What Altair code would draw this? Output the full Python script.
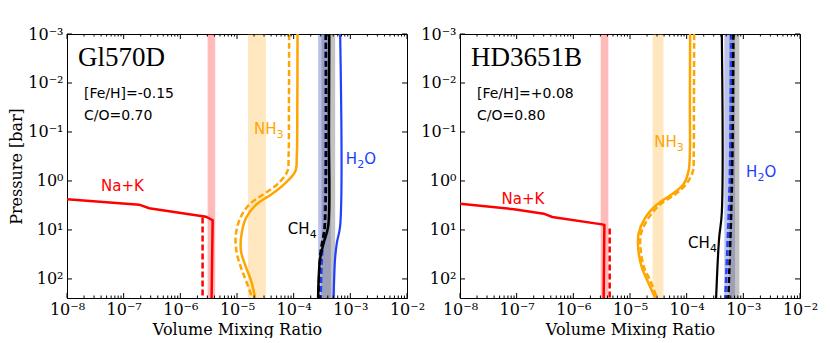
import altair as alt
import pandas as pd

# ---------------- Gl570D (left panel) ----------------
GL_NAK_X = [1.0e-8, 1.88e-7, 2.82e-7, 2.82e-6, 3.72e-6, 3.56e-6]
GL_NAK_P = [2.36, 3.05, 3.6, 5.36, 6.34, 245]
GL_NAK_D_X = [2.47e-6, 2.47e-6]
GL_NAK_D_P = [5.6, 245]

GL_NH3_X = [1.17e-4, 1.16e-4, 1.135e-4, 1.07e-4, 6.76e-5, 4.07e-5, 2.19e-5, 1.45e-5, 1.20e-5, 1.175e-5, 1.45e-5, 1.78e-5, 2.09e-5]
GL_NH3_P = [1e-3, 0.03, 0.316, 0.631, 1.17, 1.86, 3.02, 5.62, 12.3, 26.9, 58.9, 110, 245]
GL_NH3_D_X = [8.32e-5, 8.25e-5, 8.13e-5, 7.76e-5, 5.13e-5, 2.95e-5, 1.66e-5, 1.15e-5, 9.55e-6, 9.77e-6, 1.175e-5, 1.45e-5, 1.86e-5]
GL_NH3_D_P = GL_NH3_P

GL_CH4_X = [4.24e-4, 4.17e-4, 4.07e-4, 3.39e-4, 2.92e-4, 2.70e-4]
GL_CH4_P = [1e-3, 0.1, 8.3, 18.3, 39.9, 245]
GL_CH4_D_X = [3.70e-4, 3.55e-4, 3.24e-4, 2.95e-4, 2.75e-4]
GL_CH4_D_P = [1e-3, 8.3, 15.8, 31.6, 245]

GL_H2O_X = [6.61e-4, 6.61e-4, 5.78e-4, 5.37e-4, 5.06e-4]
GL_H2O_P = [1e-3, 8.3, 18.3, 39.9, 245]
GL_H2O_D_X = [3.63e-4, 3.47e-4, 3.16e-4, 3.02e-4]
GL_H2O_D_P = [1e-3, 8.3, 39.9, 245]

GL_BAND_LO = [3.03e-6, 1.56e-5, 2.70e-4, 3.10e-4]
GL_BAND_HI = [4.13e-6, 3.24e-5, 4.53e-4, 5.40e-4]

GL_LABEL_X = [4.0e-8, 1.99e-5, 8.34e-4, 7.9e-5]
GL_LABEL_P = [1.6, 0.109, 0.449, 12.1]

# ---------------- HD3651B (right panel) ----------------
HD_NAK_X = [1.0e-8, 8.93e-8, 3.01e-7, 4.24e-7, 3.21e-6, 3.53e-6, 3.43e-6]
HD_NAK_P = [2.91, 3.78, 4.65, 5.43, 7.7, 7.91, 245]
HD_NAK_D_X = [4.38e-6, 4.38e-6]
HD_NAK_D_P = [9.3, 245]

HD_NH3_X = [1.15e-4, 1.14e-4, 1.135e-4, 1.08e-4, 8.79e-5, 5.50e-5, 2.99e-5, 1.86e-5, 1.41e-5, 1.41e-5, 1.62e-5, 2.04e-5, 2.79e-5]
HD_NH3_P = [1e-3, 0.03, 0.316, 0.624, 1.17, 1.86, 3.02, 5.62, 12.3, 26.9, 58.9, 110, 245]
HD_NH3_D_X = [1.355e-4, 1.345e-4, 1.33e-4, 1.29e-4, 9.77e-5, 6.31e-5, 3.39e-5, 2.14e-5, 1.55e-5, 1.55e-5, 1.78e-5, 2.29e-5, 2.99e-5]
HD_NH3_D_P = HD_NH3_P

HD_CH4_X = [4.17e-4, 4.17e-4, 3.73e-4, 3.31e-4]
HD_CH4_P = [1e-3, 4.45, 15.3, 245]
HD_CH4_D_X = [6.67e-4, 6.31e-4, 5.44e-4]
HD_CH4_D_P = [1e-3, 1.0, 245]

HD_H2O_D_X = [6.07e-4, 5.75e-4, 4.79e-4]
HD_H2O_D_P = [1e-3, 1.0, 245]

HD_BAND_LO = [3.04e-6, 2.50e-5, 4.62e-4, 5.66e-4]
HD_BAND_HI = [4.15e-6, 3.90e-5, 7.14e-4, 8.51e-4]

HD_LABEL_X = [5.42e-8, 2.68e-5, 1.12e-3, 1.06e-4]
HD_LABEL_P = [2.95, 0.202, 0.828, 23.4]

# label pieces: (text, dx, dy, fontsize)
SPECIES_PARTS = [
    [("Na+K", 0, 0, 15)],
    [("NH", 0, 0, 15), ("3", 22.5, 4, 11)],
    [("H", 0, 0, 15), ("2", 11.3, 4, 11), ("O", 18.3, 0, 15)],
    [("CH", 0, 0, 15), ("4", 21.8, 4, 11)],
]
BAND_COLORS = ["#ff0000", "#ffa500", "#3040c0", "#707070"]
BAND_OPACITY = [0.27, 0.25, 0.32, 0.42]

X_MAJOR = [1e-8, 1e-7, 1e-6, 1e-5, 1e-4, 1e-3, 1e-2]
X_MINOR = [m * d for d in [1e-8, 1e-7, 1e-6, 1e-5, 1e-4, 1e-3] for m in range(2, 10)]
Y_MAJOR = [1e-3, 1e-2, 1e-1, 1e0, 1e1, 1e2]

RED = "#ff0000"
ORANGE = "#ffa500"
BLUE = "#2040ff"
BLACK = "#000000"

W, H = 340, 264

xscale = alt.Scale(type="log", domain=[1e-8, 1e-2])
yscale = alt.Scale(type="log", domain=[1e-3, 245], reverse=True)

SUP = ("'10' + replace(replace(replace(replace(replace(replace(replace(replace(replace(replace(replace("
       "'' + round(log(datum.value)/LN10),'-','⁻'),'0','⁰'),'1','¹'),'2','²'),'3','³'),'4','⁴'),"
       "'5','⁵'),'6','⁶'),'7','⁷'),'8','⁸'),'9','⁹')")

xaxis = alt.Axis(values=X_MAJOR, labelExpr=SUP, title="Volume Mixing Ratio", ticks=False,
                 grid=False, labelPadding=3, titlePadding=4, labelOverlap=False, labelFlush=False)


def yaxis(title):
    if title:
        return alt.Axis(values=Y_MAJOR, labelExpr=SUP, title=title, ticks=False, grid=False,
                        labelPadding=4, titlePadding=3, labelOverlap=False, labelFlush=False,
                        labelBaseline="middle")
    return alt.Axis(values=Y_MAJOR, labelExpr=SUP, title=None, ticks=False, grid=False,
                    labelPadding=4, labelOverlap=False, labelFlush=False, labelBaseline="middle")


def X(ax):
    return alt.X("x:Q", scale=xscale, axis=ax)


def Y(ax):
    return alt.Y("p:Q", scale=yscale, axis=ax)


def panel(name, feh, co, bands_lo, bands_hi, lines, lab_x, lab_p, ytitle):
    ya = yaxis(ytitle)
    layers = []
    # axis holder
    layers.append(alt.Chart(pd.DataFrame({"x": [1e-8], "p": [1e-3]})).mark_point(opacity=0)
                  .encode(x=X(xaxis), y=Y(ya)))
    # bands
    for lo, hi, c, o in zip(bands_lo, bands_hi, BAND_COLORS, BAND_OPACITY):
        layers.append(alt.Chart(pd.DataFrame({"x": [lo], "x2": [hi]}))
                      .mark_rect(color=c, opacity=o)
                      .encode(x=X(xaxis), x2="x2:Q"))
    # lines
    for xs, ps, color, dashed, w, interp in lines:
        df = pd.DataFrame({"x": xs, "p": ps, "i": list(range(len(xs)))})
        kw = dict(color=color, strokeWidth=w, interpolate=interp, clip=True)
        if dashed:
            kw["strokeDash"] = [6, 3]
        layers.append(alt.Chart(df).mark_line(**kw)
                      .encode(x=X(xaxis), y=Y(ya), order="i:Q"))
    # species labels
    for parts, lx, lp, c in zip(SPECIES_PARTS, lab_x, lab_p, [RED, ORANGE, BLUE, BLACK]):
        for t, dx, dy, fs in parts:
            layers.append(alt.Chart(pd.DataFrame({"x": [lx], "p": [lp], "t": [t]}))
                          .mark_text(align="left", baseline="alphabetic", font="DejaVu Sans",
                                     fontSize=fs, color=c, dx=dx, dy=dy)
                          .encode(x=X(xaxis), y=Y(ya), text="t:N"))
    # panel texts
    layers.append(alt.Chart(pd.DataFrame({"t": [name]}))
                  .mark_text(align="left", baseline="alphabetic", font="Liberation Serif",
                             fontSize=27, color="black")
                  .encode(x=alt.value(11), y=alt.value(32), text="t:N"))
    layers.append(alt.Chart(pd.DataFrame({"t": [feh]}))
                  .mark_text(align="left", baseline="alphabetic", font="DejaVu Sans",
                             fontSize=14, color="black")
                  .encode(x=alt.value(17), y=alt.value(64), text="t:N"))
    layers.append(alt.Chart(pd.DataFrame({"t": [co]}))
                  .mark_text(align="left", baseline="alphabetic", font="DejaVu Sans",
                             fontSize=14, color="black")
                  .encode(x=alt.value(17), y=alt.value(86), text="t:N"))
    # inward ticks
    dfx = pd.DataFrame({"x": X_MAJOR})
    dfxm = pd.DataFrame({"x": X_MINOR})
    dfy = pd.DataFrame({"p": Y_MAJOR})
    tk = dict(color="black", strokeWidth=1)
    layers.append(alt.Chart(dfx).mark_rule(**tk).encode(x=X(xaxis), y=alt.value(H), y2=alt.value(H - 5)))
    layers.append(alt.Chart(dfx).mark_rule(**tk).encode(x=X(xaxis), y=alt.value(0), y2=alt.value(5)))
    layers.append(alt.Chart(dfxm).mark_rule(**tk).encode(x=X(xaxis), y=alt.value(H), y2=alt.value(H - 2.5)))
    layers.append(alt.Chart(dfxm).mark_rule(**tk).encode(x=X(xaxis), y=alt.value(0), y2=alt.value(2.5)))
    layers.append(alt.Chart(dfy).mark_rule(**tk).encode(y=Y(ya), x=alt.value(0), x2=alt.value(5)))
    layers.append(alt.Chart(dfy).mark_rule(**tk).encode(y=Y(ya), x=alt.value(W), x2=alt.value(W - 5)))
    return alt.layer(*layers).properties(width=W, height=H)


CR = "catmull-rom"
LIN = "linear"

left = panel(
    "Gl570D", "[Fe/H]=-0.15", "C/O=0.70", GL_BAND_LO, GL_BAND_HI,
    [
        (GL_H2O_X, GL_H2O_P, BLUE, False, 2.2, CR),
        (GL_H2O_D_X, GL_H2O_D_P, BLUE, True, 2.2, CR),
        (GL_CH4_X, GL_CH4_P, BLACK, False, 2.5, CR),
        (GL_CH4_D_X, GL_CH4_D_P, BLACK, True, 2.5, CR),
        (GL_NH3_X, GL_NH3_P, ORANGE, False, 2.5, CR),
        (GL_NH3_D_X, GL_NH3_D_P, ORANGE, True, 2.5, CR),
        (GL_NAK_X, GL_NAK_P, RED, False, 2.5, LIN),
        (GL_NAK_D_X, GL_NAK_D_P, RED, True, 2.5, LIN),
    ],
    GL_LABEL_X, GL_LABEL_P, "Pressure [bar]")

right = panel(
    "HD3651B", "[Fe/H]=+0.08", "C/O=0.80", HD_BAND_LO, HD_BAND_HI,
    [
        (HD_CH4_X, HD_CH4_P, BLACK, False, 2.2, CR),
        (HD_H2O_D_X, HD_H2O_D_P, BLUE, True, 2.5, CR),
        (HD_CH4_D_X, HD_CH4_D_P, BLACK, True, 2.5, CR),
        (HD_NH3_X, HD_NH3_P, ORANGE, False, 2.5, CR),
        (HD_NH3_D_X, HD_NH3_D_P, ORANGE, True, 2.5, CR),
        (HD_NAK_X, HD_NAK_P, RED, False, 2.5, LIN),
        (HD_NAK_D_X, HD_NAK_D_P, RED, True, 2.5, LIN),
    ],
    HD_LABEL_X, HD_LABEL_P, None)

chart = (
    alt.hconcat(left, right, spacing=53, bounds="flush")
    .properties(padding={"left": 0, "top": 17, "right": 0, "bottom": 0}, background="white")
    .configure_view(stroke="black", strokeWidth=1)
    .configure_axis(domainColor="black", domainWidth=1, labelFont="DejaVu Serif", labelFontSize=16,
                    titleFont="DejaVu Serif", titleFontSize=16, titleFontWeight="normal",
                    labelColor="black", titleColor="black")
)

chart.save("out.html", embed_options={"renderer": "svg", "actions": False})
